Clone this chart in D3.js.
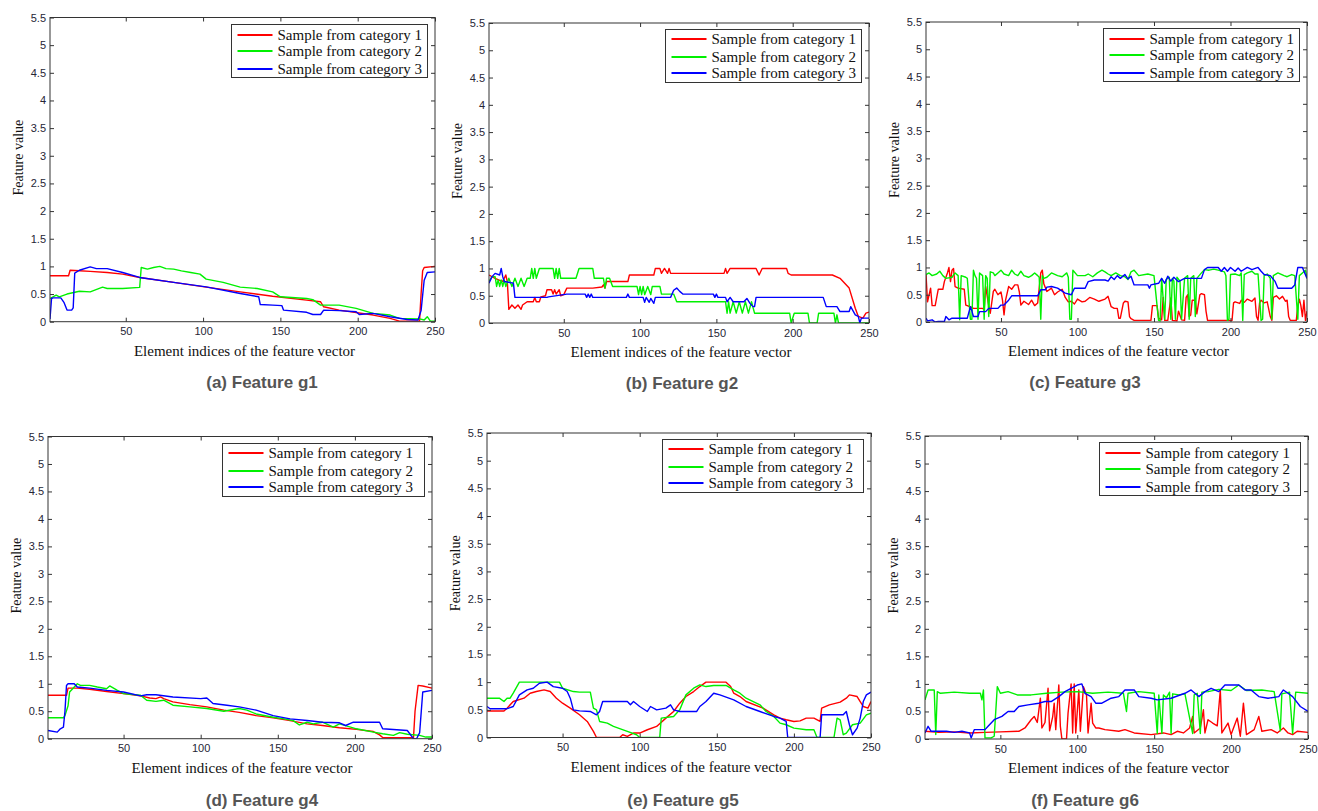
<!DOCTYPE html>
<html><head><meta charset="utf-8">
<script src="https://cdn.jsdelivr.net/npm/d3@7"></script>
<style>
html,body{margin:0;padding:0;background:#fff;}
svg{display:block;}
</style></head>
<body>
<svg id="chart" width="1318" height="811"></svg>
<script>
// ---------- DATA (element index, feature value) ----------
const seriesNames = ["Sample from category 1", "Sample from category 2", "Sample from category 3"];
const panelTitles = ["(a) Feature g1", "(b) Feature g2", "(c) Feature g3", "(d) Feature g4", "(e) Feature g5", "(f) Feature g6"];
const xTickValues = [50, 100, 150, 200, 250];
const yTickValues = [0, 0.5, 1, 1.5, 2, 2.5, 3, 3.5, 4, 4.5, 5, 5.5];
const xLabel = "Element indices of the feature vector";
const yLabel = "Feature value";

const g1_cat1 = [[1,.83],[13,.83],[14,.93],[20,.92],[27,.91],[38,.89],[48,.86],[59,.80],[81,.71],[102,.625],[124,.54],[145,.46],[167,.39],[176,.36],[178,.27],[188,.21],[210,.12],[221,.06],[227,.01],[240,.01],[241,.5],[242,.92],[243,.98],[250,1.0]];
const g1_cat2 = [[1,.42],[5,.48],[7,.45],[12,.5],[20,.55],[27,.54],[35,.625],[38,.6],[48,.6],[59,.62],[60,.98],[64,.95],[68,.98],[72,1.0],[76,.96],[81,.95],[86,.92],[92,.89],[98,.86],[102,.77],[113,.71],[124,.625],[135,.6],[145,.54],[150,.45],[167,.42],[171,.4],[176,.3],[188,.3],[199,.24],[210,.15],[221,.12],[227,.06],[240,.05],[243,.03],[245,.09],[247,.01],[250,.01]];
const g1_cat3 = [[1,.05],[2,.42],[3,.43],[8,.43],[10,.35],[12,.21],[15,.21],[16,.25],[17,.88],[20,.93],[27,.99],[31,.96],[38,.96],[48,.89],[59,.80],[81,.71],[102,.63],[124,.51],[136,.45],[137,.31],[145,.30],[151,.29],[152,.21],[167,.17],[171,.13],[176,.13],[178,.21],[188,.20],[199,.18],[201,.13],[210,.15],[221,.09],[232,.04],[239,.03],[241,.2],[243,.75],[245,.89],[250,.9]];

const g2_cat1 = [[1,.88],[5,.82],[10,.76],[12,.88],[13,.76],[14,.25],[16,.33],[18,.27],[20,.33],[22,.25],[23,.33],[26,.39],[30,.39],[31,.47],[32,.39],[34,.39],[35,.48],[38,.5],[39,.61],[42,.61],[43,.53],[44,.61],[45,.53],[47,.61],[48,.5],[50,.52],[52,.64],[69,.64],[75,.66],[76,.70],[77,.64],[78,.76],[92,.76],[93,.88],[109,.88],[110,1.0],[113,1.0],[114,.91],[116,1.0],[118,.91],[119,1.0],[120,.91],[155,.91],[156,1.0],[157,.91],[159,1.0],[176,1.0],[178,.88],[180,1.0],[196,1.0],[197,.91],[199,.88],[226,.88],[231,.82],[237,.64],[241,.27],[243,.12],[246,.09],[248,.18],[250,.2]];
const g2_cat2 = [[1,.76],[3,.85],[5,.85],[6,.67],[7,.79],[8,.67],[9,.79],[10,.67],[11,.79],[12,.67],[14,.82],[16,.67],[18,.82],[20,.67],[22,.82],[24,.67],[26,.82],[28,.82],[29,1.0],[30,.82],[31,1.0],[32,.82],[34,1.0],[43,1.0],[44,.82],[45,1.0],[46,.82],[47,1.0],[48,.82],[58,.82],[60,1.0],[69,1.0],[70,.82],[76,.82],[77,.64],[78,.82],[80,.82],[82,.67],[98,.67],[99,.52],[100,.67],[101,.52],[102,.67],[103,.52],[105,.67],[107,.52],[108,.67],[113,.67],[114,.53],[122,.53],[124,.39],[156,.39],[157,.18],[158,.39],[159,.18],[161,.39],[163,.18],[165,.39],[167,.18],[169,.39],[171,.18],[173,.39],[175,.18],[176,.18],[198,.18],[199,0],[201,.18],[210,.18],[211,0],[216,0],[217,.18],[227,.18],[228,0],[229,.15],[230,0],[250,0]];
const g2_cat3 = [[1,.73],[3,.85],[5,.91],[8,.88],[9,1.0],[10,.85],[11,.76],[17,.73],[18,.47],[39,.47],[40,.48],[52,.53],[64,.53],[65,.47],[66,.53],[67,.47],[68,.53],[69,.47],[91,.47],[92,.53],[93,.47],[102,.47],[103,.38],[104,.47],[106,.38],[107,.45],[109,.36],[110,.47],[120,.47],[122,.6],[124,.64],[126,.58],[128,.53],[148,.53],[149,.47],[150,.53],[151,.47],[156,.47],[157,.39],[159,.47],[161,.39],[168,.39],[170,.45],[172,.36],[174,.30],[175,.30],[176,.47],[220,.47],[222,.30],[229,.30],[231,.21],[237,.21],[238,.30],[241,.15],[243,.12],[244,0],[245,.09],[250,.09]];

const g3_cat1 = [[1,.87],[2,.37],[4,.62],[5,.3],[7,.3],[9,.6],[12,.6],[13,.74],[15,.9],[16,1.0],[17,.74],[18,.95],[19,.98],[20,.65],[22,.62],[26,.6],[27,.31],[30,.28],[32,.25],[38,.25],[39,.22],[40,.65],[42,.3],[43,.16],[45,.56],[46,.6],[48,.5],[50,.55],[51,.4],[52,.13],[53,.4],[55,.65],[57,.6],[59,.68],[61,.68],[62,.55],[63,.31],[65,.38],[68,.32],[70,.4],[72,.3],[74,.35],[76,.9],[77,.95],[78,.7],[80,.56],[83,.62],[85,.5],[87,.55],[90,.6],[92,.45],[94,.37],[96,.38],[98,.33],[100,.42],[103,.37],[105,.38],[108,.45],[111,.42],[114,.38],[118,.42],[120,.47],[122,.28],[124,.25],[126,.25],[127,.07],[128,.07],[130,.35],[131,.38],[133,.37],[134,.1],[135,.06],[137,.03],[148,.03],[149,.3],[152,.3],[153,.07],[155,.04],[156,.45],[157,.03],[159,.03],[161,.44],[162,.03],[165,.02],[166,.2],[168,.04],[170,.03],[171,.45],[172,.5],[173,.1],[174,.13],[175,.4],[177,.4],[178,.15],[180,.5],[181,.52],[183,.5],[184,.2],[185,.03],[201,.03],[202,.35],[203,.37],[206,.34],[207,.4],[209,.36],[211,.42],[214,.38],[216,.44],[217,.1],[218,.03],[219,.35],[220,.4],[222,.35],[224,.37],[226,.1],[227,.03],[228,.45],[230,.48],[232,.42],[234,.47],[236,.38],[237,.4],[238,.1],[239,.03],[243,.03],[244,.3],[245,.42],[246,.3],[247,.1],[248,.4],[249,.03],[250,.2]];
const g3_cat2 = [[1,.87],[3,.9],[5,.85],[8,.88],[10,.93],[12,.85],[14,.8],[18,.82],[20,.9],[22,.85],[23,.04],[24,.85],[27,.82],[28,.8],[30,.05],[31,.05],[32,.95],[33,.85],[34,.8],[35,.05],[36,.9],[38,.85],[39,.05],[40,.85],[41,.8],[42,.1],[43,.92],[45,.9],[46,.85],[48,.9],[50,.95],[52,.88],[55,.85],[57,.95],[59,.88],[61,.85],[63,.93],[65,.85],[68,.82],[70,.85],[72,.9],[74,.85],[75,.82],[76,.05],[77,.85],[78,.8],[80,.82],[83,.9],[87,.85],[90,.83],[93,.9],[94,.82],[95,.05],[96,.05],[97,.95],[100,.85],[105,.85],[107,.88],[110,.83],[113,.9],[116,.95],[118,.92],[120,.88],[122,.85],[125,.9],[128,.85],[131,.83],[133,.78],[135,.92],[137,.95],[140,.85],[146,.88],[150,.85],[153,.03],[154,.02],[155,.8],[157,.05],[158,.78],[160,.82],[161,.05],[162,.8],[163,.75],[164,.05],[165,.82],[167,.75],[168,.05],[170,.8],[172,.85],[173,.05],[174,.8],[176,.85],[177,.1],[178,.8],[181,.9],[183,.96],[186,.95],[189,.97],[192,.95],[196,.92],[197,.85],[198,.03],[199,.05],[200,.87],[203,.88],[206,.85],[207,.9],[208,.03],[209,.87],[211,.9],[214,.93],[216,.88],[218,.88],[220,.03],[221,.05],[222,.85],[224,.88],[226,.8],[227,.05],[228,.85],[231,.9],[235,.85],[237,.83],[240,.87],[242,.85],[244,.05],[245,.85],[247,.9],[249,.95],[250,.8]];
const g3_cat3 = [[1,.07],[2,.02],[5,.04],[7,0],[9,.01],[13,.01],[14,.1],[16,.04],[18,.07],[28,.07],[30,.28],[31,.2],[32,.1],[35,.1],[36,.19],[40,.19],[42,.25],[48,.25],[50,.31],[52,.31],[55,.4],[57,.48],[74,.48],[76,.59],[79,.59],[80,.64],[83,.65],[87,.62],[92,.53],[96,.5],[98,.62],[105,.62],[107,.74],[111,.77],[118,.77],[120,.75],[122,.83],[124,.78],[126,.85],[128,.8],[131,.87],[133,.79],[135,.84],[137,.68],[146,.68],[147,.62],[148,.68],[153,.71],[155,.8],[157,.71],[159,.84],[161,.75],[163,.82],[166,.74],[170,.8],[174,.8],[177,.8],[181,.8],[183,.96],[185,1.0],[192,1.0],[194,.93],[196,1.0],[198,.93],[200,1.0],[203,.93],[205,.99],[207,.93],[211,1.0],[214,.96],[218,1.0],[220,.93],[222,.87],[226,.85],[229,.75],[231,.62],[240,.62],[242,.68],[244,1.0],[247,1.0],[250,.8]];

const g4_cat1 = [[1,.79],[13,.79],[14,.92],[20,.92],[28,.9],[39,.86],[50,.82],[61,.78],[67,.74],[71,.73],[74,.76],[76,.73],[82,.67],[93,.62],[104,.58],[115,.52],[125,.48],[136,.42],[147,.38],[158,.33],[169,.27],[179,.24],[190,.2],[201,.17],[212,.13],[216,.07],[218,.02],[238,.02],[239,.5],[241,.97],[244,.96],[250,.92]];
const g4_cat2 = [[1,.38],[11,.38],[12,.42],[14,.6],[15,.85],[17,.91],[20,1.0],[22,.97],[28,.97],[33,.94],[39,.91],[41,.96],[46,.88],[50,.82],[61,.79],[65,.7],[71,.68],[76,.7],[82,.61],[93,.58],[104,.55],[115,.5],[125,.55],[130,.52],[136,.45],[147,.39],[154,.36],[160,.33],[164,.25],[169,.3],[173,.27],[179,.3],[186,.21],[190,.27],[201,.18],[212,.12],[218,.09],[225,.06],[229,.11],[234,.08],[242,.06],[246,.03],[250,.03]];
const g4_cat3 = [[1,.15],[7,.12],[9,.18],[11,.21],[12,.5],[13,.97],[14,1.0],[18,1.0],[20,.94],[28,.92],[39,.88],[50,.85],[61,.78],[65,.8],[71,.8],[82,.76],[100,.73],[104,.74],[108,.64],[117,.61],[125,.58],[136,.52],[147,.42],[158,.36],[169,.33],[179,.3],[190,.29],[194,.24],[199,.3],[212,.3],[216,.3],[218,.18],[234,.15],[238,0],[240,0],[242,.11],[244,.85],[250,.88]];

const g5_cat1 = [[1,.48],[12,.48],[14,.53],[18,.65],[25,.71],[29,.8],[33,.83],[38,.86],[42,.83],[46,.71],[50,.62],[55,.53],[61,.41],[66,.29],[70,.11],[72,0],[87,0],[89,.05],[92,.02],[96,.08],[100,.08],[105,.14],[111,.2],[117,.35],[122,.47],[126,.62],[130,.74],[135,.83],[139,.92],[143,1.0],[156,1.0],[159,.92],[161,.8],[165,.74],[169,.65],[180,.53],[187,.41],[191,.35],[195,.32],[200,.29],[204,.3],[208,.35],[213,.35],[217,.29],[218,.53],[223,.59],[230,.64],[234,.71],[236,.77],[241,.74],[243,.65],[245,.56],[248,.53],[250,.65]];
const g5_cat2 = [[1,.71],[9,.71],[12,.65],[14,.71],[16,.71],[18,.8],[22,1.0],[48,1.0],[50,.89],[57,.83],[61,.82],[68,.82],[70,.53],[72,.5],[74,.29],[79,.26],[83,.2],[92,.11],[98,.05],[100,0],[113,0],[114,.35],[122,.38],[126,.5],[130,.77],[135,.89],[139,.95],[143,.92],[148,.94],[156,.94],[161,.86],[165,.8],[169,.71],[178,.59],[182,.47],[187,.38],[191,.26],[195,.23],[200,.17],[208,.14],[213,.14],[215,0],[226,0],[228,.35],[230,.32],[232,.05],[234,.08],[238,.23],[243,.26],[247,.41],[250,.44]];
const g5_cat3 = [[1,.56],[3,.52],[14,.52],[18,.56],[22,.77],[27,.86],[31,.89],[35,.98],[40,1.0],[44,.92],[50,.89],[53,.83],[55,.71],[57,.5],[61,.48],[68,.47],[72,.41],[74,.47],[76,.65],[92,.65],[94,.59],[96,.65],[100,.56],[105,.47],[107,.56],[111,.5],[117,.53],[120,.59],[122,.5],[126,.47],[137,.47],[139,.56],[143,.65],[148,.8],[152,.77],[161,.68],[169,.56],[178,.47],[187,.38],[191,.35],[195,.29],[196,0],[217,0],[218,.41],[232,.41],[234,.47],[236,.23],[238,.05],[241,.17],[243,.35],[245,.65],[247,.77],[250,.82]];

const g6_cat1 = [[1,.14],[10,.12],[20,.13],[30,.11],[40,.12],[50,.13],[62,.14],[66,.2],[70,.35],[72,.41],[74,.3],[76,.74],[77,.2],[79,.3],[81,.92],[82,.15],[84,.4],[85,.65],[86,.17],[88,.98],[89,.23],[90,0],[93,0],[94,.47],[96,1.0],[97,.11],[98,1.0],[99,.11],[101,.89],[102,.14],[104,.95],[106,.8],[107,.11],[109,.65],[110,.29],[112,.2],[114,.2],[118,.17],[127,.14],[131,.17],[137,.11],[148,.08],[156,.11],[161,.08],[165,.14],[169,.11],[173,.2],[175,.41],[176,.11],[180,.2],[182,.53],[183,.11],[185,.35],[188,.29],[191,.24],[193,.89],[194,.11],[198,.29],[200,.08],[204,.38],[206,.05],[208,.65],[210,.08],[215,.17],[218,.41],[220,.14],[226,.17],[230,.11],[234,.2],[237,.11],[240,.08],[243,.14],[250,.12]];
const g6_cat2 = [[1,.71],[3,.89],[7,.89],[8,.08],[9,.86],[11,.83],[20,.85],[30,.83],[37,.83],[38,.71],[39,.89],[40,.02],[44,.02],[46,.05],[48,.95],[50,.83],[55,.86],[61,.8],[70,.8],[80,.83],[90,.85],[100,.86],[110,.83],[120,.85],[130,.83],[132,.5],[133,.83],[140,.86],[150,.83],[152,.1],[153,.8],[155,.1],[156,.8],[158,.75],[160,.85],[161,.1],[162,.82],[166,.8],[170,.82],[175,.1],[176,.8],[178,.83],[180,.1],[181,.85],[185,.86],[192,.9],[200,.88],[205,.98],[210,.88],[220,.89],[228,.86],[232,.15],[233,.82],[238,.85],[240,.1],[242,.85],[250,.83]];
const g6_cat3 = [[1,.11],[3,.23],[5,.14],[15,.14],[20,.12],[25,.14],[30,.11],[31,.02],[33,.17],[40,.17],[42,.23],[46,.35],[51,.41],[55,.5],[59,.5],[62,.59],[68,.62],[75,.65],[79,.68],[83,.68],[88,.77],[92,.86],[96,.92],[100,.98],[103,1.0],[105,.83],[109,.77],[112,.65],[116,.65],[122,.74],[127,.77],[131,.89],[137,.89],[140,.77],[148,.74],[152,.71],[161,.74],[170,.83],[174,.89],[179,.77],[183,.86],[187,.92],[192,.86],[196,.98],[205,.98],[209,.89],[213,.89],[218,.77],[224,.74],[231,.77],[234,.89],[237,.83],[240,.77],[245,.59],[250,.5]];

const panelSeries = [
  [g1_cat1, g1_cat2, g1_cat3],
  [g2_cat1, g2_cat2, g2_cat3],
  [g3_cat1, g3_cat2, g3_cat3],
  [g4_cat1, g4_cat2, g4_cat3],
  [g5_cat1, g5_cat2, g5_cat3],
  [g6_cat1, g6_cat2, g6_cat3]
];

// ---------- LAYOUT / STYLE ----------
const layout = [
  {L:50,  R:435,  T:17.5, B:321.7, sx:262,  sy:388, lw:196},
  {L:489, R:869,  T:23,   B:323,   sx:682,  sy:389, lw:196},
  {L:926, R:1307, T:22,   B:322,   sx:1085, sy:388, lw:196},
  {L:48,  R:432,  T:436.5,B:738.7, sx:262,  sy:806, lw:202},
  {L:487, R:871,  T:433,  B:737.5, sx:683,  sy:806, lw:201},
  {L:925, R:1308, T:436,  B:739,   sx:1085, sy:806, lw:201}
];
const colors = ["#ff0000", "#00f000", "#0000ff"];
const tickColor = "#262636";
const serif = "'Liberation Serif','Times New Roman',serif";
const sans = "'Liberation Sans',Arial,sans-serif";

const svg = d3.select("#chart");

layout.forEach((p, i) => {
  const g = svg.append("g");
  const x = d3.scaleLinear().domain([1, 250]).range([p.L, p.R]);
  const y = d3.scaleLinear().domain([0, 5.5]).range([p.B, p.T]);

  const clipId = "clip" + i;
  svg.append("clipPath").attr("id", clipId).append("rect")
    .attr("x", p.L).attr("y", p.T).attr("width", p.R - p.L).attr("height", p.B - p.T);

  // series lines
  const line = d3.line().x(d => x(d[0])).y(d => y(d[1]));
  const lg = g.append("g").attr("clip-path", `url(#${clipId})`);
  panelSeries[i].forEach((s, k) => {
    lg.append("path").datum(s).attr("d", line)
      .attr("fill", "none").attr("stroke", colors[k]).attr("stroke-width", 1.4)
      .attr("stroke-linejoin", "round");
  });

  // axes (ticks inward on all sides)
  const styleAxis = sel => {
    sel.select(".domain").remove();
    sel.selectAll(".tick line").attr("stroke", "#333");
    sel.selectAll(".tick text").attr("fill", tickColor)
      .style("font-family", sans).style("font-size", "11px");
  };
  g.append("g").attr("transform", `translate(0,${p.B})`)
    .call(d3.axisBottom(x).tickValues(xTickValues).tickSizeInner(-4).tickSizeOuter(0).tickPadding(6))
    .call(styleAxis);
  g.append("g").attr("transform", `translate(0,${p.T})`)
    .call(d3.axisTop(x).tickValues(xTickValues).tickSizeInner(-4).tickSizeOuter(0).tickFormat(""))
    .call(styleAxis);
  g.append("g").attr("transform", `translate(${p.L},0)`)
    .call(d3.axisLeft(y).tickValues(yTickValues).tickSizeInner(-4).tickSizeOuter(0).tickPadding(4).tickFormat(d => String(d)))
    .call(styleAxis);
  g.append("g").attr("transform", `translate(${p.R},0)`)
    .call(d3.axisRight(y).tickValues(yTickValues).tickSizeInner(-4).tickSizeOuter(0).tickFormat(""))
    .call(styleAxis);

  // frame
  g.append("rect").attr("x", p.L).attr("y", p.T).attr("width", p.R - p.L).attr("height", p.B - p.T)
    .attr("fill", "none").attr("stroke", "#333").attr("stroke-width", 1);

  // axis labels
  g.append("text").attr("x", (p.L + p.R) / 2 + 2).attr("y", p.B + 34)
    .attr("text-anchor", "middle").style("font-family", serif).style("font-size", "15px")
    .attr("fill", "#111").text(xLabel);
  const ly = (p.T + p.B) / 2 - 12;
  g.append("text").attr("transform", `translate(${p.L - 27},${ly}) rotate(-90)`)
    .attr("text-anchor", "middle").style("font-family", serif).style("font-size", "14px")
    .attr("fill", "#111").text(yLabel);

  // legend
  const bw = p.lw, bh = 53;
  const bx = Math.round(p.R - 8 - bw) + 0.5, by = Math.round(p.T + 6) + 0.5;
  const leg = g.append("g");
  leg.append("rect").attr("x", bx).attr("y", by).attr("width", bw).attr("height", bh)
    .attr("fill", "#fff").attr("stroke", "#333").attr("stroke-width", 1);
  seriesNames.forEach((n, k) => {
    const ry = 2 * Math.round((by + 10 + k * 16.8 - 1) / 2) + 1;
    leg.append("line").attr("x1", bx + 6).attr("x2", bx + 41).attr("y1", ry).attr("y2", ry)
      .attr("stroke", colors[k]).attr("stroke-width", 2);
    leg.append("text").attr("x", bx + 46).attr("y", ry + 5)
      .style("font-family", serif).style("font-size", "15px").attr("fill", "#111").text(n);
  });

  // panel caption
  g.append("text").attr("x", p.sx).attr("y", p.sy).attr("text-anchor", "middle")
    .style("font-family", sans).style("font-size", "17px").style("font-weight", "bold")
    .attr("fill", "#555").text(panelTitles[i]);
});
</script>
</body></html>
